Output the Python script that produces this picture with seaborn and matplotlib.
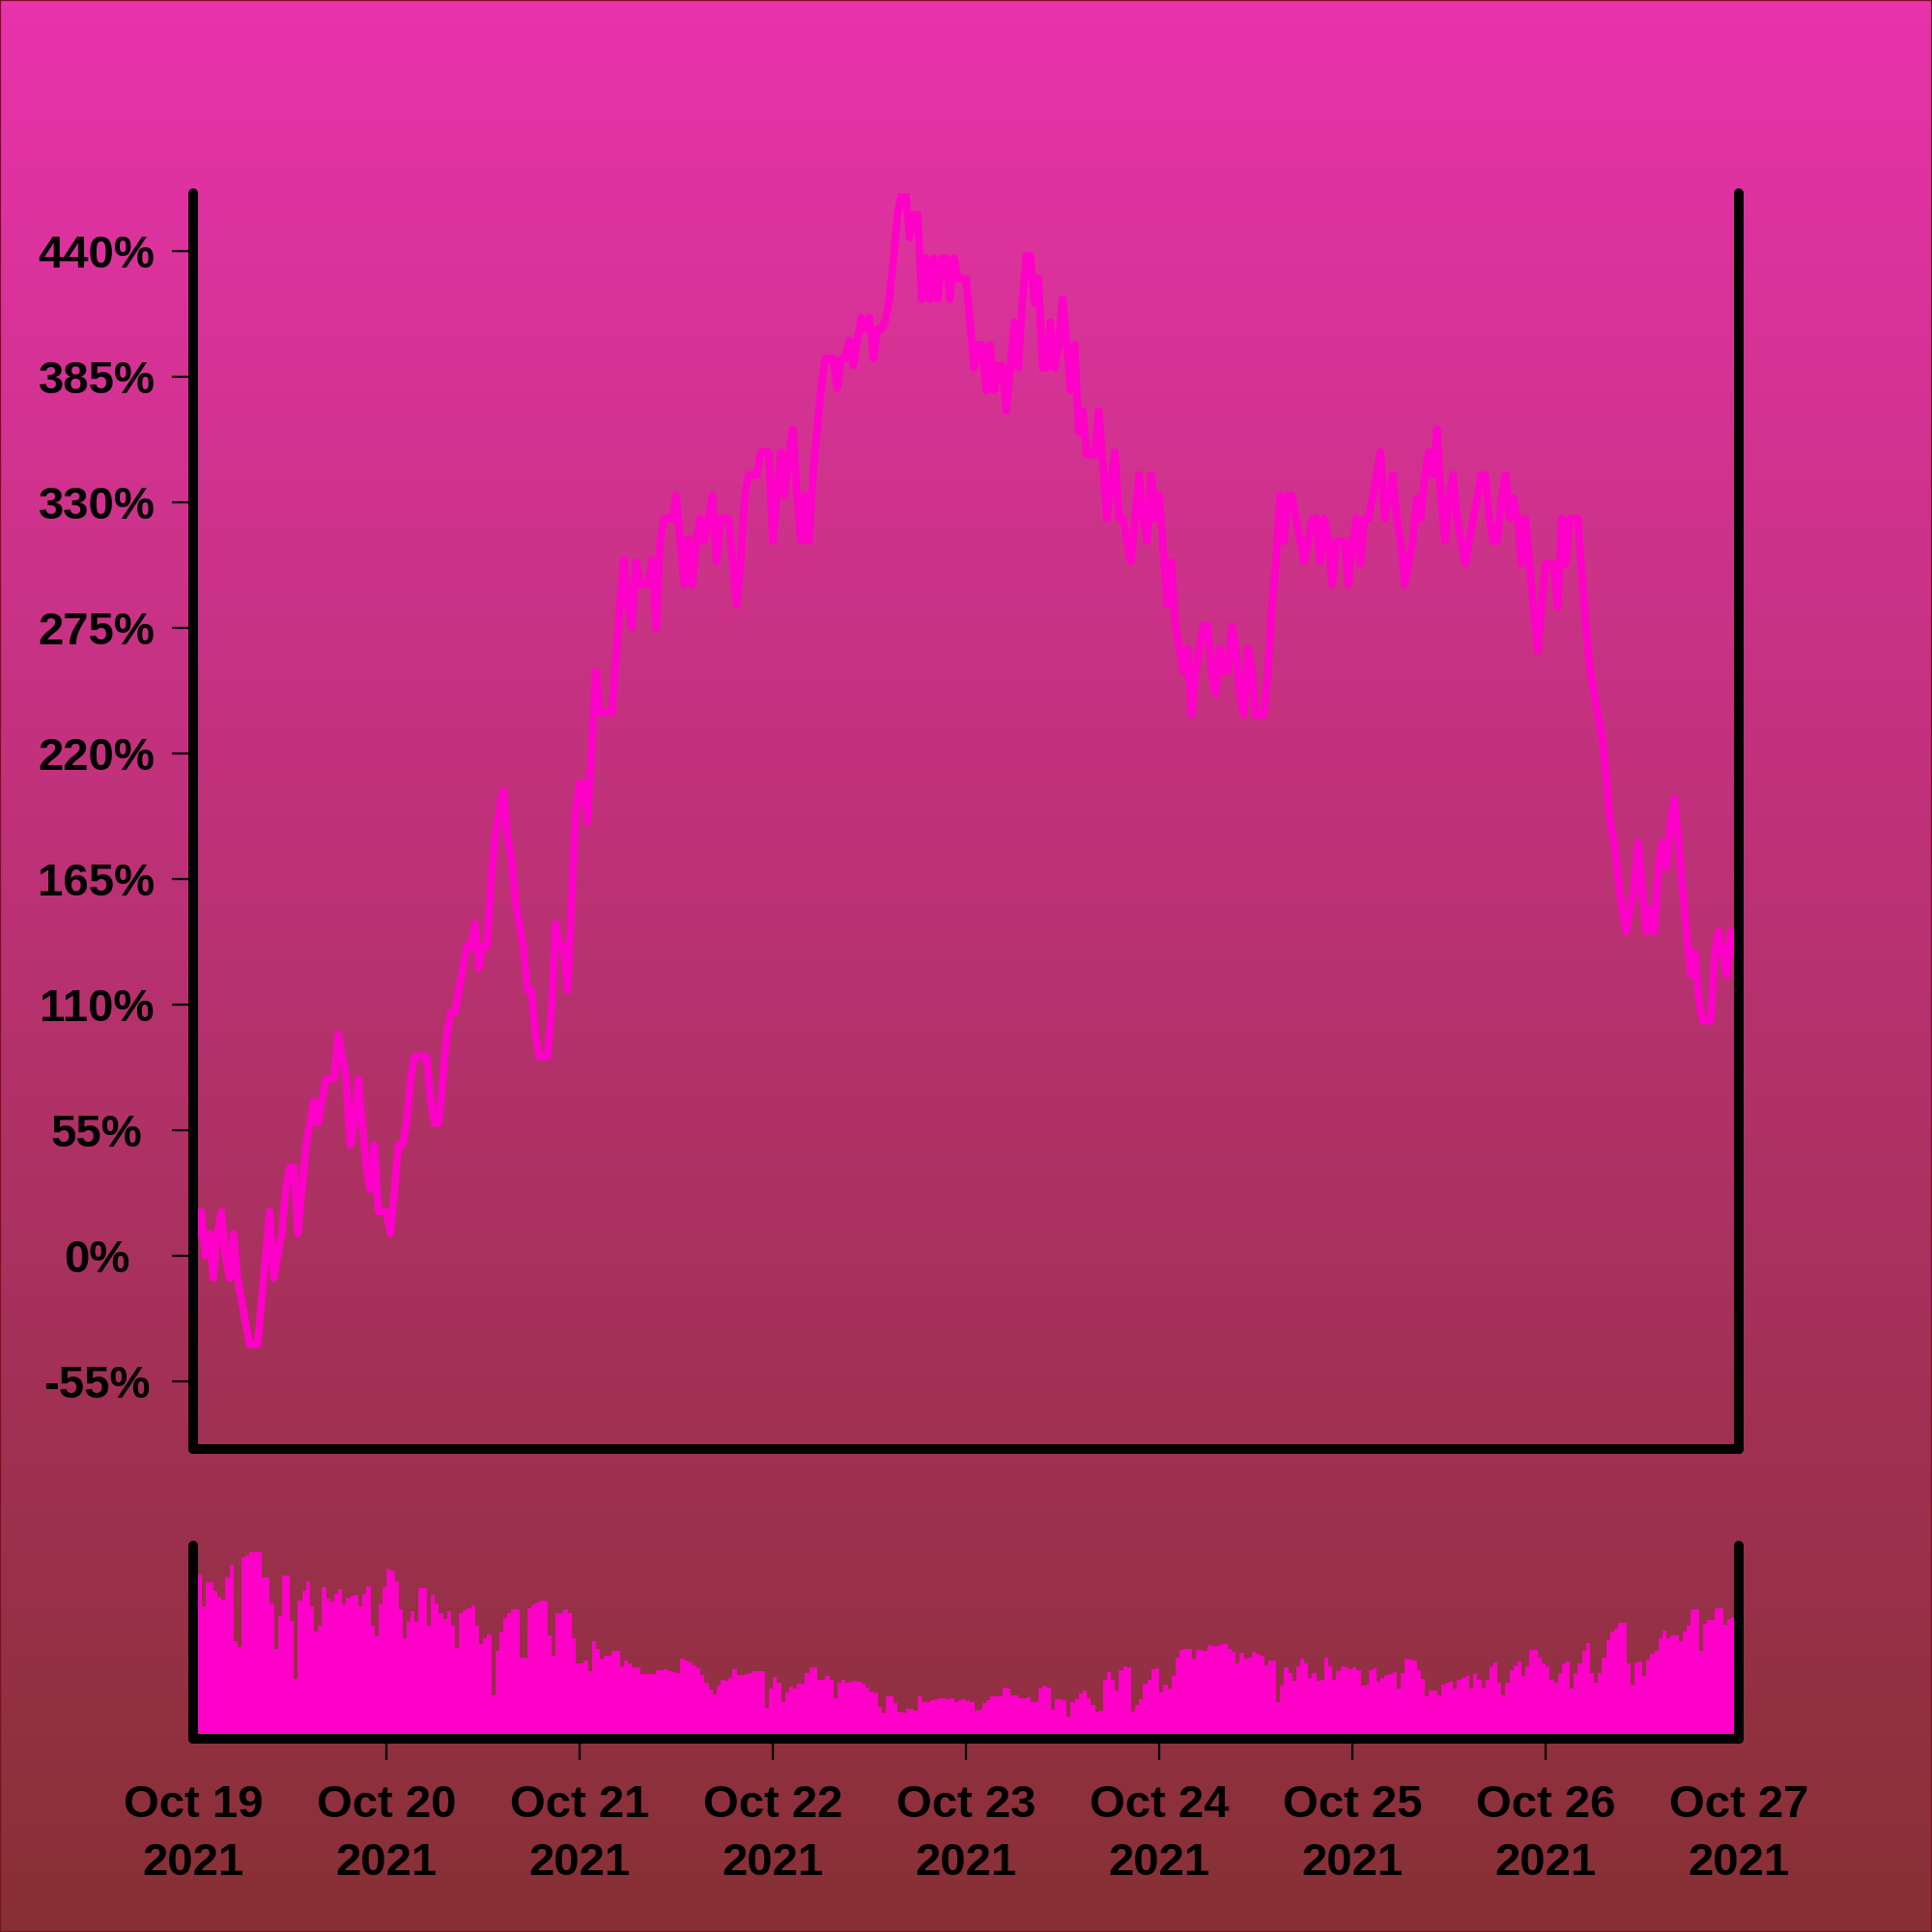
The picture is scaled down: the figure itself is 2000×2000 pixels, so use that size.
import numpy as np
import pandas as pd
import seaborn as sns
import matplotlib.pyplot as plt
import matplotlib.dates as mdates
from matplotlib.colors import LinearSegmentedColormap
from matplotlib.patches import Rectangle

# half-hourly candles, Oct 19 - Oct 26 2021
times = pd.date_range('2021-10-19 00:00', periods=384, freq='30min')
days = pd.date_range('2021-10-19', '2021-10-27', freq='D')

# % change since first candle
pct_change = [
    9.7, 9.7, 19.4, 0, 9.7, -9.7, 9.7, 19.4, 0, -9.7,
    9.7, -9.7, -19.4, -29.1, -38.8, -38.8, -38.8, -19.4, 0, 19.4,
    -9.7, 0, 9.7, 29.1, 38.8, 38.8, 9.7, 29.1, 48.5, 58.2,
    67.9, 58.2, 67.9, 77.6, 77.6, 77.6, 97.0, 87.3, 77.6, 48.5,
    58.2, 77.6, 58.2, 38.8, 29.1, 48.5, 19.4, 19.4, 19.4, 9.7,
    29.1, 48.5, 48.5, 58.2, 77.6, 87.3, 87.3, 87.3, 87.3, 67.9,
    58.2, 58.2, 77.6, 97.0, 106.7, 106.7, 116.4, 126.1, 135.8, 135.8,
    145.5, 126.1, 135.8, 135.8, 164.9, 184.3, 194.0, 203.7, 184.3, 174.6,
    155.2, 145.5, 135.8, 116.4, 116.4, 97.0, 87.3, 87.3, 87.3, 106.7,
    145.5, 135.8, 135.8, 116.4, 155.2, 194.0, 207.0, 207.0, 190.0, 223.0,
    256, 238, 238, 238, 238, 262, 285, 305, 285, 275,
    304, 294, 294, 294, 305, 275, 313, 323, 323, 323,
    333, 313, 294, 314, 294, 313, 323, 313, 323, 333,
    304, 323, 323, 323, 304, 285, 304, 333, 342, 342,
    342, 352, 352, 352, 313, 333, 352, 333, 352, 362,
    333, 313, 333, 313, 342, 362, 380, 393, 393, 393,
    380, 393, 393, 401, 390, 401, 411, 406, 411, 393,
    406, 406, 410, 420, 437, 456, 466, 466, 446, 456,
    456, 419, 437, 419, 437, 419, 437, 437, 419, 437,
    428, 428, 428, 409, 389, 399, 399, 379, 399, 379,
    390, 390, 370, 389, 409, 389, 418, 438, 438, 417,
    428, 389, 389, 409, 389, 399, 419, 399, 379, 399,
    361, 370, 351, 351, 351, 370, 346, 323, 340, 352,
    323, 323, 313, 304, 323, 342, 323, 313, 342, 323,
    333, 309, 285, 304, 276, 266, 256, 266, 237, 256,
    266, 276, 276, 256, 246, 266, 256, 256, 276, 266,
    246, 237, 266, 256, 237, 237, 237, 256, 285, 304,
    333, 313, 333, 333, 323, 313, 304, 313, 323, 323,
    304, 323, 313, 294, 313, 313, 313, 294, 313, 323,
    303, 323, 323, 332, 342, 352, 323, 333, 342, 323,
    313, 294, 304, 313, 332, 323, 342, 352, 342, 362,
    332, 313, 332, 342, 323, 313, 303, 313, 323, 332,
    342, 342, 323, 313, 313, 332, 342, 323, 332, 323,
    303, 323, 303, 284, 265, 284, 303, 303, 303, 284,
    323, 303, 323, 323, 323, 299, 275, 257, 247, 237,
    227, 210, 190, 181, 166, 152, 142, 152, 161, 181,
    161, 142, 152, 142, 170, 181, 170, 190, 200, 181,
    161, 142, 123, 133, 113, 103, 103, 103, 133, 142,
    133, 123, 142, 133,
]

# traded volume (relative units)
volume = [
    80.0, 85.2, 68.5, 80.8, 80.8, 76.7, 73.4, 71.8, 83.3, 90.1,
    50.4, 47.5, 93.9, 95.2, 96.4, 96.9, 96.4, 83.3, 83.3, 70.1,
    46.3, 63.5, 84.4, 84.4, 61.1, 31.2, 71.4, 76.7, 81.6, 68.5,
    55.7, 58.6, 78.7, 72.6, 70.8, 75.0, 77.7, 69.3, 72.9, 74.2,
    74.5, 68.5, 75.0, 79.1, 58.6, 53.7, 69.8, 78.3, 88.2, 86.9,
    81.6, 66.8, 52.1, 60.3, 65.8, 60.3, 78.2, 78.2, 58.6, 74.5,
    70.1, 64.9, 61.9, 65.8, 58.6, 46.8, 65.2, 66.7, 67.7, 69.1,
    58.6, 49.1, 52.1, 54.0, 22.5, 45.5, 55.3, 62.7, 65.2, 66.8,
    66.8, 42.2, 42.2, 67.3, 69.3, 70.6, 71.4, 71.4, 53.7, 43.0,
    65.2, 65.2, 66.8, 65.2, 52.1, 38.9, 38.9, 40.6, 35.0, 50.4,
    46.3, 41.7, 43.0, 43.0, 45.5, 45.5, 37.3, 40.6, 38.9, 36.9,
    36.9, 33.5, 33.5, 33.5, 33.5, 35.6, 35.6, 36.0, 34.8, 34.3,
    34.0, 41.4, 40.6, 39.4, 38.1, 36.3, 33.0, 29.1, 25.5, 23.2,
    27.4, 30.5, 29.9, 31.5, 36.0, 33.2, 32.8, 33.5, 34.0, 34.8,
    35.0, 35.1, 15.9, 25.8, 31.9, 29.1, 19.2, 24.1, 27.1, 25.8,
    28.4, 28.4, 34.0, 36.8, 37.1, 30.7, 30.7, 32.3, 30.7, 20.9,
    29.1, 30.5, 29.2, 29.7, 30.0, 29.4, 28.6, 26.6, 24.5, 24.1,
    16.7, 13.5, 22.2, 22.2, 18.4, 13.8, 13.5, 15.4, 15.6, 14.3,
    21.8, 19.2, 19.2, 20.0, 20.7, 21.2, 21.2, 20.7, 20.9, 19.2,
    20.0, 20.4, 19.5, 19.2, 14.3, 14.8, 18.4, 20.2, 22.2, 22.2,
    22.2, 26.6, 25.8, 22.3, 22.5, 20.9, 20.9, 21.3, 19.2, 19.0,
    25.8, 27.3, 26.6, 14.8, 20.5, 20.4, 19.9, 11.3, 19.2, 20.7,
    23.3, 25.0, 20.9, 17.4, 13.8, 14.3, 30.7, 34.6, 30.7, 25.1,
    35.6, 37.3, 36.9, 14.1, 17.6, 20.4, 28.7, 30.7, 36.0, 36.3,
    24.1, 28.1, 25.8, 32.3, 42.2, 46.1, 46.6, 46.6, 41.4, 46.1,
    46.1, 45.5, 48.3, 48.1, 47.9, 49.1, 49.1, 46.3, 45.0, 38.9,
    44.5, 41.4, 42.2, 45.2, 44.2, 43.0, 38.1, 40.6, 40.6, 19.0,
    27.4, 36.9, 34.0, 29.9, 37.3, 41.7, 38.9, 31.5, 34.0, 29.9,
    30.7, 41.9, 37.3, 30.4, 35.1, 37.3, 36.9, 36.1, 37.1, 35.6,
    27.4, 28.2, 35.6, 36.6, 29.4, 31.5, 33.0, 33.7, 34.3, 25.8,
    34.0, 41.7, 40.9, 40.4, 35.6, 31.2, 22.0, 24.8, 24.8, 22.3,
    28.2, 29.1, 29.4, 25.8, 30.7, 31.5, 32.3, 25.8, 33.7, 30.7,
    26.6, 30.4, 37.3, 39.4, 29.1, 22.5, 29.1, 35.6, 38.1, 40.2,
    32.3, 37.3, 45.8, 46.1, 42.2, 38.9, 37.3, 30.7, 29.1, 34.0,
    38.9, 39.9, 25.8, 34.0, 38.9, 45.5, 49.3, 34.0, 29.1, 34.0,
    42.2, 51.2, 55.3, 57.0, 59.8, 59.8, 38.9, 27.8, 39.6, 39.9,
    32.3, 41.1, 43.8, 45.3, 52.1, 56.0, 52.1, 53.5, 53.5, 50.4,
    55.3, 58.6, 67.0, 67.0, 45.5, 59.4, 61.4, 61.4, 67.7, 67.7,
    58.9, 61.9, 63.1, 63.1,
]

y_ticks = [-55, 0, 55, 110, 165, 220, 275, 330, 385, 440]
y_tick_labels = ['-55%', '0%', '55%', '110%', '165%', '220%', '275%', '330%', '385%', '440%']

PINK = '#FF00C8'
BG_TOP = '#E833AC'
BG_BOTTOM = '#873034'

sns.set_style('ticks')
plt.rcParams['font.family'] = ['Liberation Sans', 'DejaVu Sans']
plt.rcParams['font.weight'] = 'bold'

fig = plt.figure(figsize=(10, 10), dpi=200)

# gradient background
bg = fig.add_axes([0, 0, 1, 1], zorder=-10)
cmap = LinearSegmentedColormap.from_list('bg', [BG_TOP, BG_BOTTOM])
bg.imshow(np.linspace(0, 1, 512).reshape(-1, 1), aspect='auto', cmap=cmap,
          extent=[0, 1, 0, 1], origin='upper')
bg.axis('off')

ax = fig.add_axes([0.1, 0.25, 0.8, 0.65])
axv = fig.add_axes([0.1, 0.1, 0.8, 0.1], sharex=ax)

df = pd.DataFrame({'time': mdates.date2num(times), 'pct': pct_change, 'volume': volume})

sns.lineplot(data=df, x='time', y='pct', ax=ax, color=PINK, linewidth=2.8)
# volume bars: one bar per half hour, slightly overlapping so no seams show
axv.bar(df['time'], df['volume'], width=1 / 46, align='edge', color=PINK,
        linewidth=0, antialiased=False)

for a in (ax, axv):
    a.set_facecolor('none')
    a.set_xlabel('')
    a.set_ylabel('')
    a.spines['top'].set_visible(False)
    for side in ('left', 'right', 'bottom'):
        a.spines[side].set_visible(True)
        a.spines[side].set_linewidth(3.6)
        a.spines[side].set_color('black')
        a.spines[side].set_capstyle('round')

ax.set_xlim(mdates.date2num(days[0]), mdates.date2num(days[-1]))
ax.set_ylim(-84.6, 465.4)
axv.set_ylim(0, 100)

ax.set_yticks(y_ticks)
ax.set_yticklabels(y_tick_labels)
ax.tick_params(axis='y', length=8, width=0.8, pad=28, labelsize=17, color='black', labelcolor='black')
for lbl in ax.get_yticklabels():
    lbl.set_horizontalalignment('center')
    lbl.set_fontweight('bold')
ax.tick_params(axis='x', bottom=False, labelbottom=False)

axv.tick_params(axis='y', left=False, labelleft=False, right=False)
axv.set_xticks(mdates.date2num(days))
axv.set_xticklabels([d.strftime('%b %d\n%Y') for d in days])
axv.tick_params(axis='x', length=8, width=0.8, pad=9, labelsize=17, color='black', labelcolor='black')
for lbl in axv.get_xticklabels():
    lbl.set_fontweight('bold')
    lbl.set_linespacing(1.45)
# end ticks sit under the rounded spine corners
xt = axv.xaxis.get_major_ticks()
xt[0].tick1line.set_visible(False)
xt[-1].tick1line.set_visible(False)

fig.add_artist(Rectangle((0, 0), 1, 1, transform=fig.transFigure, fill=False,
                         edgecolor='#7a1020', linewidth=0.8, zorder=20))

fig.savefig('out.png', dpi=200)
